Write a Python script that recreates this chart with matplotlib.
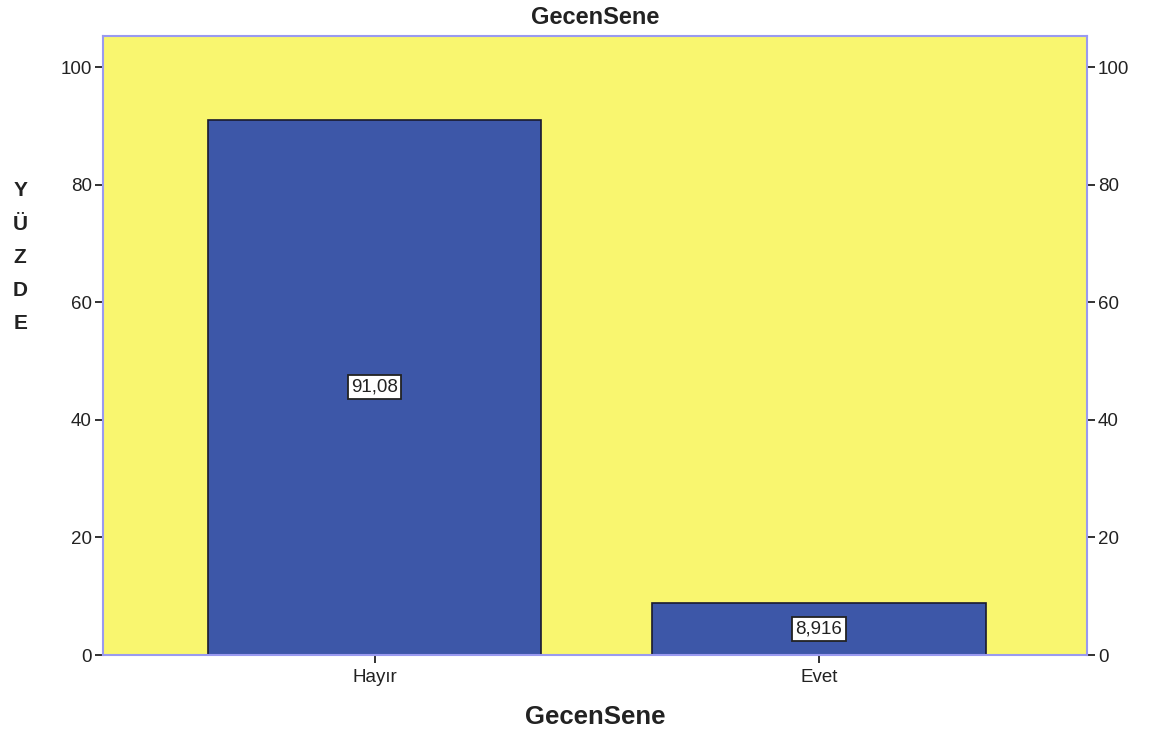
import matplotlib
matplotlib.use("Agg")
import matplotlib.pyplot as plt

categories = ["Hayır", "Evet"]
percents = [91.08, 8.916]
value_labels = ["91,08", "8,916"]
y_ticks = [0, 20, 40, 60, 80, 100]

plt.rcParams["font.family"] = ["Liberation Sans", "DejaVu Sans"]

fig = plt.figure(figsize=(11.5, 7.29), dpi=100)
ax = fig.add_axes([0.0896, 0.1015, 0.8556, 0.8491])
ax.set_facecolor("#f9f66f")

x = range(len(categories))
ax.bar(x, percents, width=0.75, color="#3d57a8", edgecolor="#1a1a2e", linewidth=1.2, zorder=2)

for xi, v, lab in zip(x, percents, value_labels):
    ax.text(xi, v / 2, lab, ha="center", va="center", fontsize=13.5, color="#222222", zorder=3,
            bbox=dict(boxstyle="square,pad=0.18", facecolor="white", edgecolor="#222222", linewidth=1.3))

ax.set_xlim(-0.611, 1.603)
ax.set_ylim(0, 105.3)
ax.set_xticks(list(x))
ax.set_xticklabels(categories, fontsize=13.5, color="#222222")
ax.set_yticks(y_ticks)
ax.tick_params(axis="y", labelsize=13.5, labelcolor="#222222", length=6, width=1.3, color="#222222",
               right=True, labelright=True, pad=2)
ax.tick_params(axis="x", length=6, width=1.3, color="#222222", pad=4)

for sp in ax.spines.values():
    sp.set_color("#9a9af0")
    sp.set_linewidth(1.5)

ax.set_title("GecenSene", fontsize=17, fontweight="bold", color="#222222", pad=9)
ax.set_xlabel("GecenSene", fontsize=18.5, fontweight="bold", color="#222222", labelpad=14)
fig.text(0.0175, 0.647, "Y\nÜ\nZ\nD\nE", ha="center", va="center", fontsize=15,
         fontweight="bold", color="#222222", linespacing=1.95)

fig.savefig("out.png", dpi=100)
